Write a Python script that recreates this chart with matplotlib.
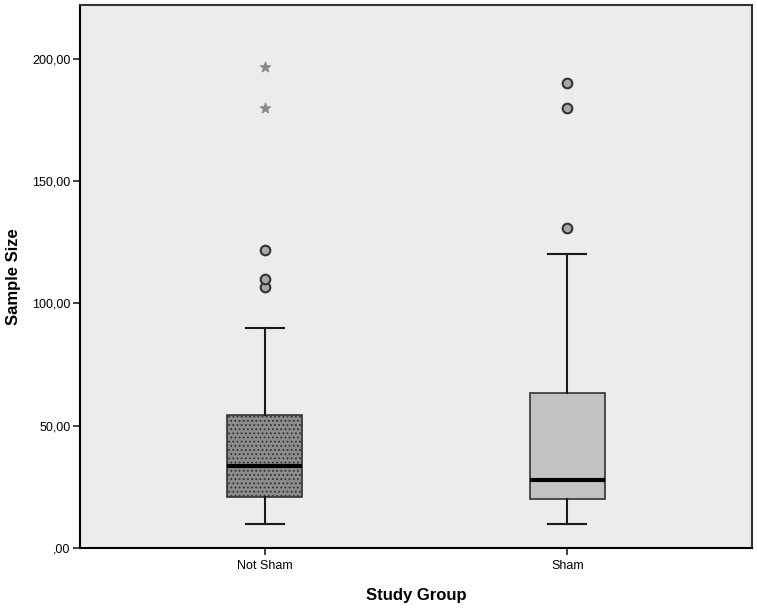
import matplotlib
matplotlib.use("Agg")
import matplotlib.pyplot as plt
from matplotlib.ticker import FuncFormatter

plt.rcParams['font.family'] = ['Liberation Sans', 'DejaVu Sans']
plt.rcParams['hatch.color'] = '#505050'
plt.rcParams['hatch.linewidth'] = 0.8

groups = ["Not Sham", "Sham"]
whislo = [10, 10]
q1 = [21, 20]
med = [33.5, 28]
q3 = [54.5, 63.5]
whishi = [90, 120]
outliers = [[106.7, 110, 122], [131, 180, 190]]
extremes = [[180, 196.5], []]
box_colors = ["#8c8c8c", "#c2c2c2"]
hatches = ["....", None]

fig = plt.figure(figsize=(7.57, 6.08), dpi=100)
ax = fig.add_axes([80/757, 60/608, 672/757, 543/608])
ax.set_facecolor('#ececec')

stats = []
for i, g in enumerate(groups):
    stats.append(dict(label=g, whislo=whislo[i], q1=q1[i], med=med[i],
                      q3=q3[i], whishi=whishi[i], fliers=[]))
pos = [1, 2]
bp = ax.bxp(stats, positions=pos, widths=0.25, patch_artist=True,
            showfliers=False,
            boxprops=dict(edgecolor='#333333', linewidth=1.2),
            medianprops=dict(color='black', linewidth=3),
            whiskerprops=dict(color='#1a1a1a', linewidth=1.5),
            capprops=dict(color='#1a1a1a', linewidth=1.5),
            capwidths=0.125)
for patch, c, h in zip(bp['boxes'], box_colors, hatches):
    patch.set_facecolor(c)
    if h:
        patch.set_hatch(h)

for i, p in enumerate(pos):
    if outliers[i]:
        ax.scatter([p]*len(outliers[i]), outliers[i], s=48, marker='o',
                   facecolor='#a8a8a8', edgecolor='#333333', linewidth=1.5, zorder=3)
    if extremes[i]:
        ax.scatter([p]*len(extremes[i]), extremes[i], s=55, marker='*',
                   color='#8a8a8a', zorder=3)

ax.set_xlim(0.39, 2.61)
ax.set_ylim(0, 222)
ax.set_yticks([0, 50, 100, 150, 200])
ax.yaxis.set_major_formatter(FuncFormatter(
    lambda v, p: (",00" if v == 0 else f"{v:.2f}".replace('.', ','))))
ax.set_xticks(pos)
ax.set_xticklabels(groups)
ax.tick_params(axis='both', labelsize=9, direction='out', length=5, width=1.2, color='#222222')
ax.tick_params(axis='y', pad=2)
ax.set_ylabel("Sample Size", fontsize=12, fontweight='bold', labelpad=8)
ax.set_xlabel("Study Group", fontsize=12, fontweight='bold', labelpad=12)
for s in ax.spines.values():
    s.set_linewidth(1.5)
    s.set_color('#333333')
ax.spines['left'].set_color('black')
ax.spines['bottom'].set_color('black')

fig.savefig("out.png", dpi=100, facecolor='white')
